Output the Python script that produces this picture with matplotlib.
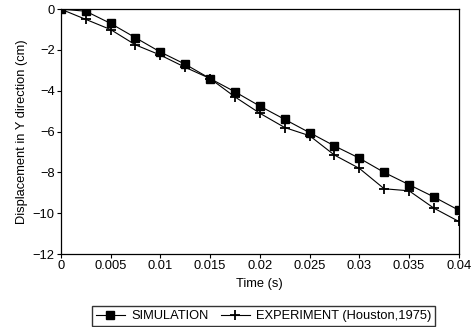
import matplotlib
matplotlib.use("Agg")
import matplotlib.pyplot as plt

time_s = [0, 0.0025, 0.005, 0.0075, 0.01, 0.0125, 0.015, 0.0175, 0.02,
          0.0225, 0.025, 0.0275, 0.03, 0.0325, 0.035, 0.0375, 0.04]
simulation = [0, -0.1, -0.7, -1.4, -2.1, -2.7, -3.4, -4.05, -4.75,
              -5.4, -6.05, -6.7, -7.3, -8.0, -8.6, -9.2, -9.85]
experiment = [0, -0.5, -1.0, -1.75, -2.25, -2.85, -3.4, -4.3, -5.1,
              -5.8, -6.2, -7.15, -7.8, -8.8, -8.9, -9.75, -10.4]
xticks = [0, 0.005, 0.01, 0.015, 0.02, 0.025, 0.03, 0.035, 0.04]
xlabels = ["0", "0.005", "0.01", "0.015", "0.02", "0.025", "0.03", "0.035", "0.04"]
yticks = [0, -2, -4, -6, -8, -10, -12]

plt.rcParams["font.family"] = ["Liberation Sans", "DejaVu Sans"]
plt.rcParams["font.size"] = 9.3

fig = plt.figure(figsize=(4.72, 3.27), dpi=100)
ax = fig.add_axes([0.129, 0.223, 0.843, 0.749])

ax.plot(time_s, simulation, color="black", lw=0.8, marker="s", ms=5.5,
        label="SIMULATION")
ax.plot(time_s, experiment, color="black", lw=0.8, marker="+", ms=6.5, mew=1.3,
        label="EXPERIMENT (Houston,1975)")

ax.set_xlim(0, 0.04)
ax.set_ylim(-12, 0)
ax.set_xticks(xticks)
ax.set_xticklabels(xlabels)
ax.set_yticks(yticks)
ax.tick_params(direction="out", length=3, width=0.8, pad=1.5)
for s in ax.spines.values():
    s.set_linewidth(0.9)
ax.set_xlabel("Time (s)", labelpad=4)
ax.set_ylabel("Displacement in Y direction (cm)", labelpad=3)

leg = ax.legend(loc="lower center", bbox_to_anchor=(0.51, -0.32), ncol=2,
                frameon=True, fancybox=False, edgecolor="black",
                handlelength=2.2, handletextpad=0.5, columnspacing=1.0,
                borderpad=0.3)
leg.get_frame().set_linewidth(1.0)

fig.savefig("out.png", dpi=100)
